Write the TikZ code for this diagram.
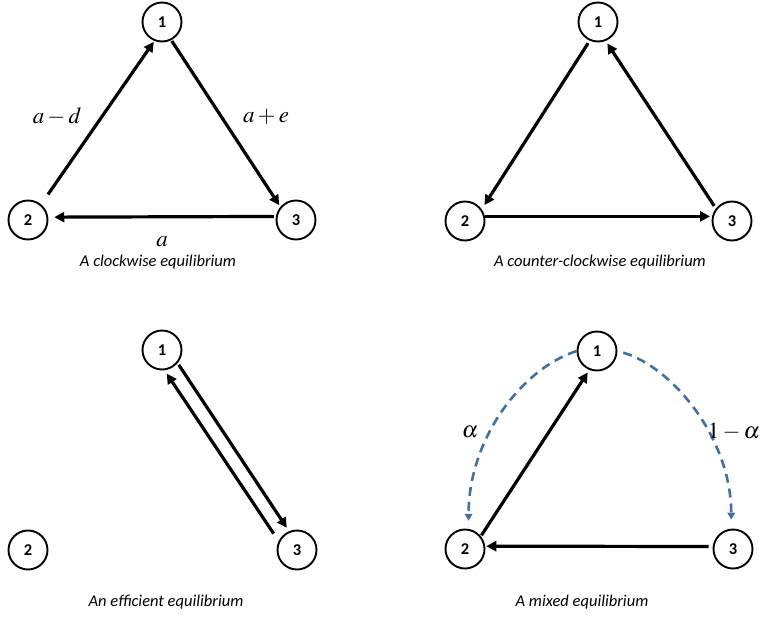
\documentclass[tikz,border=0pt]{standalone}
\usepackage{mathptmx}
\usepackage{fontspec}
\setsansfont{Carlito}
\usepackage{xcolor}
\usetikzlibrary{arrows.meta}
\definecolor{beliefblue}{RGB}{65,113,156}
\tikzset{
  % --- players ----------------------------------------------------------------
  player/.style={circle,draw,line width=1.9pt,minimum size=39pt,inner sep=0pt,
                 font=\sffamily\bfseries\fontsize{16.5}{16.5}\selectfont},
  % --- links ------------------------------------------------------------------
  flow/.style={-{Triangle[length=10pt,width=10pt]},line width=3.2pt},
  belief/.style={-{Triangle[length=7pt,width=7.5pt]},line width=2.6pt,
                 beliefblue,dash pattern=on 9pt off 6pt},
  % --- texts ------------------------------------------------------------------
  wlab/.style={font=\fontsize{23}{23}\selectfont,inner sep=0pt},
  caplab/.style={font=\sffamily\itshape\fontsize{16.5}{16.5}\selectfont,inner sep=0pt},
}

\begin{document}
\begin{tikzpicture}[x=1pt, y=-1pt]
  \useasboundingbox (0,0) rectangle (762,616);
  % --- a clockwise equilibrium -----------------------------------------------
  \node[player] (cw1) at (162,22)  {1};
  \node[player] (cw2) at (28,220)  {2};
  \node[player] (cw3) at (296,220) {3};
  \draw[flow,shorten <=12pt,shorten >=1pt] (cw2.50) -- (cw1.-112);
  \draw[flow,shorten <=1pt,shorten >=2pt] (cw1.-63) -- (cw3.140);
  \draw[flow,shorten <=2pt,shorten >=6pt] (cw3.170) -- (cw2.8.5);
  \node[wlab] (lad) at (57,117)  {$a-d$};
  \node[wlab] (lae) at (266,117) {$a+e$};
  \node[wlab] (la)  at (162,242) {$a$};
  \node[caplab] (capcw) at (158,262) {A clockwise equilibrium};

  % --- a counter-clockwise equilibrium ---------------------------------------
  \node[player] (ccw1) at (598,22)  {1};
  \node[player] (ccw2) at (465,221) {2};
  \node[player] (ccw3) at (732,221) {3};
  \draw[flow,shorten <=3pt,shorten >=5pt] (ccw1.-114) -- (ccw2.35);
  \draw[flow,shorten >=2pt] (ccw2.13) -- (ccw3.167);
  \draw[flow,shorten <=3pt,shorten >=3pt] (ccw3.142) -- (ccw1.-68);
  \node[caplab] (capccw) at (600,262) {A counter-clockwise equilibrium};

  % --- an efficient equilibrium ----------------------------------------------
  \node[player] (eff1) at (162,350) {1};
  \node[player] (eff2) at (28,550)  {2};
  \node[player] (eff3) at (297,550) {3};
  \draw[flow,shorten <=9pt,shorten >=4pt] (eff3.154) -- (eff1.-83);
  \draw[flow,shorten <=2pt,shorten >=4pt] (eff1.-40) -- (eff3.113);
  \node[caplab] (capeff) at (166,602) {An efficient equilibrium};

  % --- a mixed equilibrium ---------------------------------------------------
  \node[player] (mix1) at (597,351) {1};
  \node[player] (mix2) at (465,549) {2};
  \node[player] (mix3) at (733,549) {3};
  \draw[flow,shorten <=1pt,shorten >=3pt] (mix2.39.5) -- (mix1.-112);
  \draw[flow,shorten <=4pt,shorten >=1pt] (mix3.173) -- (mix2.8);
  % the dashed beliefs of player 1
  \draw[belief,shorten >=8pt] (mix1.180) .. controls +(-55,18) and +(0,-90) .. (mix2.80);
  \draw[belief,shorten <=6pt,shorten >=9pt] (mix1.0) .. controls +(55,16) and +(0,-90) .. (mix3.95);
  \node[wlab] (lal)  at (470,432) {$\alpha$};
  \node[wlab] (l1al) at (734,432) {$1-\alpha$};
  \node[caplab] (capmix) at (582,602) {A mixed equilibrium};
\end{tikzpicture}
\end{document}
